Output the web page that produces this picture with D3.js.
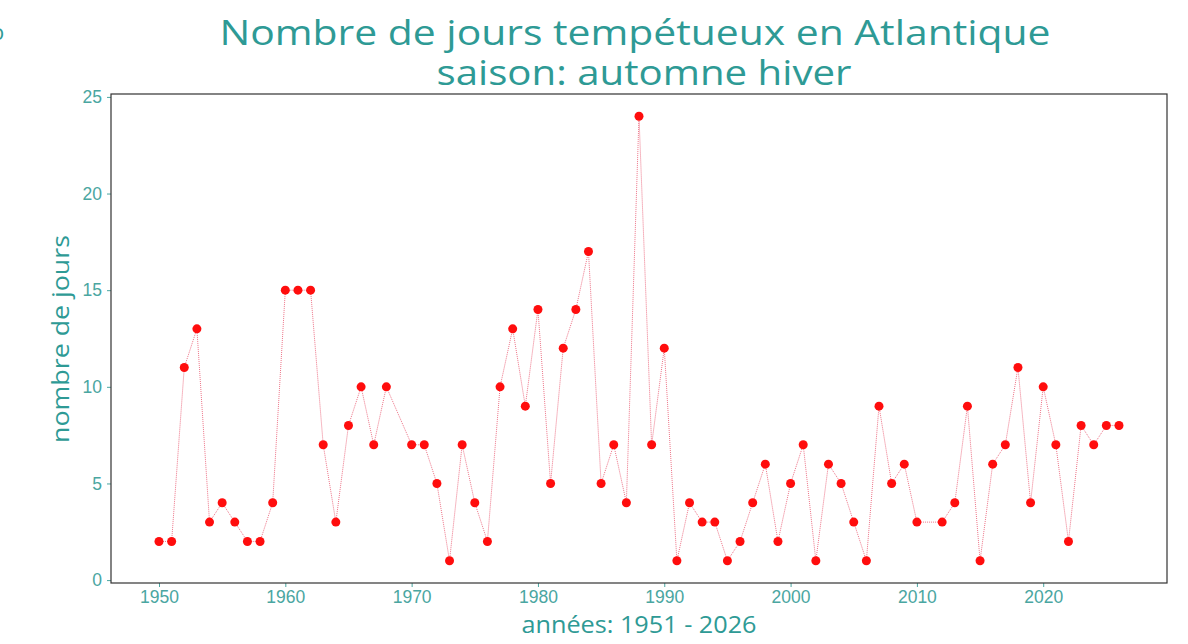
<!DOCTYPE html>
<html>
<head>
<meta charset="utf-8">
<script src="https://cdn.jsdelivr.net/npm/d3@7"></script>
<style>
  body { margin: 0; background: #fff; }
  svg { display: block; font-family: "Open Sans", "Noto Sans", sans-serif; }
</style>
</head>
<body>
<div id="chart"></div>
<script>
// data (1969 and 2011 have no value)
const years = [1950, 1951, 1952, 1953, 1954, 1955, 1956, 1957, 1958, 1959,
  1960, 1961, 1962, 1963, 1964, 1965, 1966, 1967, 1968,
  1970, 1971, 1972, 1973, 1974, 1975, 1976, 1977, 1978, 1979,
  1980, 1981, 1982, 1983, 1984, 1985, 1986, 1987, 1988, 1989,
  1990, 1991, 1992, 1993, 1994, 1995, 1996, 1997, 1998, 1999,
  2000, 2001, 2002, 2003, 2004, 2005, 2006, 2007, 2008, 2009,
  2010, 2012, 2013, 2014, 2015, 2016, 2017, 2018, 2019,
  2020, 2021, 2022, 2023, 2024, 2025, 2026];
const days = [2, 2, 11, 13, 3, 4, 3, 2, 2, 4,
  15, 15, 15, 7, 3, 8, 10, 7, 10,
  7, 7, 5, 1, 7, 4, 2, 10, 13, 9,
  14, 5, 12, 14, 17, 5, 7, 4, 24, 7,
  12, 1, 4, 3, 3, 1, 2, 4, 6, 2,
  5, 7, 1, 6, 5, 3, 1, 9, 5, 6,
  3, 3, 4, 9, 1, 6, 7, 11, 4,
  10, 7, 2, 8, 7, 8, 8];
const xTicks = [1950, 1960, 1970, 1980, 1990, 2000, 2010, 2020];
const yTicks = [0, 5, 10, 15, 20, 25];
const titleLines = ['Nombre de jours tempétueux en Atlantique', 'saison: automne hiver'];
const xLabel = 'années: 1951 - 2026';
const yLabel = 'nombre de jours';

const width = 1188, height = 644;
const margin = {top: 94, right: 21, bottom: 61, left: 111};
const teal = '#2e9a95', tickTeal = '#4aa6a1';

const pts = years.map((y, i) => ({year: y, v: days[i]}));

const svg = d3.select('#chart').append('svg')
  .attr('width', width)
  .attr('height', height);

const x = d3.scaleLinear()
  .domain([1946.2, 2029.8])
  .range([margin.left, width - margin.right]);
const y = d3.scaleLinear()
  .domain([-0.15, 25.15])
  .range([height - margin.bottom, margin.top]);

// axes
const xAxis = svg.append('g')
  .attr('transform', `translate(0,${height - margin.bottom})`)
  .call(d3.axisBottom(x).tickValues(xTicks).tickFormat(d3.format('d')).tickSize(4).tickPadding(4));
const yAxis = svg.append('g')
  .attr('transform', `translate(${margin.left},0)`)
  .call(d3.axisLeft(y).tickValues(yTicks).tickSize(4).tickPadding(5));

[xAxis, yAxis].forEach(a => {
  a.select('.domain').remove();
  a.selectAll('.tick line').attr('stroke', tickTeal);
  a.selectAll('.tick text')
    .attr('fill', tickTeal)
    .style('font-size', '17.5px');
});

// frame
svg.append('rect')
  .attr('x', margin.left)
  .attr('y', margin.top)
  .attr('width', width - margin.left - margin.right)
  .attr('height', height - margin.top - margin.bottom)
  .attr('fill', 'none')
  .attr('stroke', '#333')
  .attr('stroke-width', 1.2);

// dotted line
const line = d3.line().x(d => x(d.year)).y(d => y(d.v));
svg.append('path')
  .datum(pts)
  .attr('d', line)
  .attr('fill', 'none')
  .attr('stroke', '#e8506a')
  .attr('stroke-width', 0.8)
  .attr('stroke-dasharray', '1,1');

svg.append('g')
  .selectAll('circle')
  .data(pts)
  .join('circle')
    .attr('cx', d => x(d.year))
    .attr('cy', d => y(d.v))
    .attr('r', 4.5)
    .attr('fill', '#ff0d0d');

// title
svg.append('text')
  .attr('x', 635).attr('y', 45)
  .attr('text-anchor', 'middle')
  .attr('fill', teal)
  .style('font-size', '35px')
  .attr('textLength', 831)
  .attr('lengthAdjust', 'spacingAndGlyphs')
  .text(titleLines[0]);
svg.append('text')
  .attr('x', 644).attr('y', 85)
  .attr('text-anchor', 'middle')
  .attr('fill', teal)
  .style('font-size', '35px')
  .attr('textLength', 415)
  .attr('lengthAdjust', 'spacingAndGlyphs')
  .text(titleLines[1]);

// axis labels
svg.append('text')
  .attr('x', 639).attr('y', 633)
  .attr('text-anchor', 'middle')
  .attr('fill', teal)
  .style('font-size', '24px')
  .attr('textLength', 235)
  .attr('lengthAdjust', 'spacingAndGlyphs')
  .text(xLabel);
svg.append('text')
  .attr('transform', 'translate(69,339) rotate(-90)')
  .attr('text-anchor', 'middle')
  .attr('fill', teal)
  .style('font-size', '24px')
  .attr('textLength', 208)
  .attr('lengthAdjust', 'spacingAndGlyphs')
  .text(yLabel);

// clipped glyph at the very left edge
svg.append('text')
  .attr('x', -9).attr('y', 40)
  .attr('fill', teal)
  .style('font-size', '22px')
  .text('o');
</script>
</body>
</html>
